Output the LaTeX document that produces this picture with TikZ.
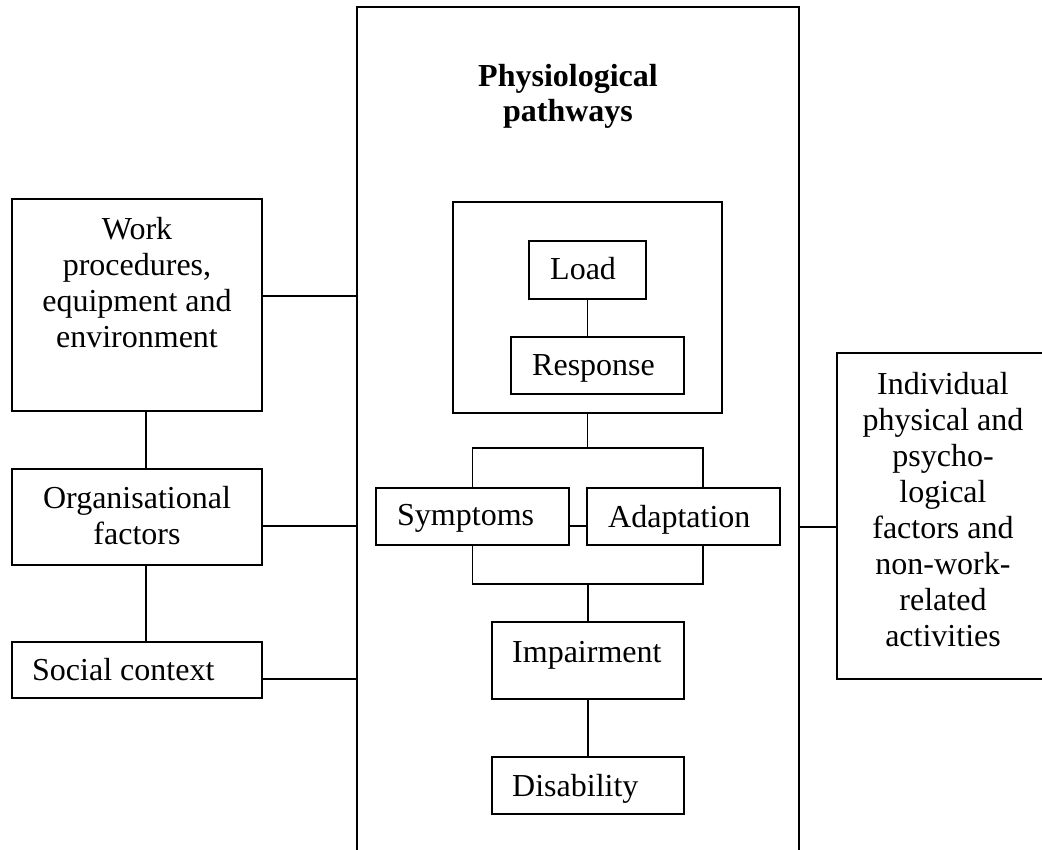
\documentclass[tikz,border=0pt]{standalone}
\usepackage{fontspec}
\setmainfont{Liberation Serif}
\begin{document}
\begin{tikzpicture}[x=1pt,y=-1pt,
  box/.style={draw, line width=1.8pt, inner sep=0pt, rectangle},
  conn/.style={line width=1.8pt},
  txt/.style={inner sep=0pt, align=center, font=\fontsize{32}{36}\selectfont},
  ttl/.style={inner sep=0pt, align=center, font=\fontsize{32}{35}\selectfont\bfseries}]
\useasboundingbox (0,0) rectangle (1042,850);
% boxes
\node[box, minimum width=442pt, minimum height=893pt] (main) at (578,453.5) {};
\node[box, minimum width=250pt, minimum height=212pt] (work) at (137,305) {};
\node[box, minimum width=250pt, minimum height=96pt] (org) at (137,517) {};
\node[box, minimum width=250pt, minimum height=56pt] (social) at (137,670) {};
\node[box, minimum width=211pt, minimum height=326pt] (indiv) at (942.5,516) {};
\node[box, minimum width=269pt, minimum height=211pt] (inner) at (587.5,307.5) {};
\node[box, minimum width=117pt, minimum height=58pt] (load) at (587.5,270) {};
\node[box, minimum width=173pt, minimum height=57pt] (resp) at (597.5,365.5) {};
\node[box, minimum width=193pt, minimum height=57pt] (sympt) at (472.5,516.5) {};
\node[box, minimum width=193pt, minimum height=57pt] (adapt) at (683.5,516.5) {};
\node[box, minimum width=192pt, minimum height=77pt] (impair) at (588,660.5) {};
\node[box, minimum width=192pt, minimum height=57pt] (disab) at (588,785.5) {};
% texts (anchor=base is the baseline of the last line)
\node[ttl, anchor=base] (tTitle) at (568,122) {Physiological\\pathways};
\node[txt, anchor=base] (tWork) at (137,348) {Work\\procedures,\\equipment and\\environment};
\node[txt, anchor=base] (tOrg) at (137,544) {Organisational\\factors};
\node[txt, anchor=base west] (tSocial) at (32,680) {Social context};
\node[txt, anchor=base west] (tLoad) at (550,280) {Load};
\node[txt, anchor=base west] (tResp) at (532,376) {Response};
\node[txt, anchor=base west] (tSympt) at (397,525) {Symptoms};
\node[txt, anchor=base west] (tAdapt) at (608,527) {Adaptation};
\node[txt, anchor=base west] (tImpair) at (512,662) {Impairment};
\node[txt, anchor=base west] (tDisab) at (512,796) {Disability};
\node[txt, anchor=base] (tIndiv) at (943,646) {Individual\\physical and\\psycho-\\logical\\factors and\\non-work-\\related\\activities};
% connectors to main box
\coordinate (w1) at ([yshift=9pt]work.east);
\draw[conn] (w1) -- (w1 -| main.west);
\coordinate (o1) at ([yshift=-9pt]org.east);
\draw[conn] (o1) -- (o1 -| main.west);
\coordinate (s1) at ([yshift=-9pt]social.east);
\draw[conn] (s1) -- (s1 -| main.west);
\coordinate (i1) at ([yshift=-11pt]indiv.west);
\draw[conn] (i1) -- (i1 -| main.east);
% left chain
\draw[conn] ([xshift=9pt]work.south) -- ([xshift=9pt]org.north);
\draw[conn] ([xshift=9pt]org.south) -- ([xshift=9pt]social.north);
% central chain
\draw[conn] (load.south) -- (load.south |- resp.north);
\coordinate (tb) at ([yshift=39pt]sympt.north);
\coordinate (adN) at ([xshift=19.5pt]adapt.north);
\draw[conn] (sympt.north) -- (tb) -- (tb -| adN) -- (adN);
\draw[conn] (inner.south) -- (inner.south |- tb);
\coordinate (bb) at ([yshift=-38pt]sympt.south);
\coordinate (adS) at ([xshift=19.5pt]adapt.south);
\draw[conn] (sympt.south) -- (bb) -- (bb -| adS) -- (adS);
\draw[conn] (impair.north) -- (impair.north |- bb);
\draw[conn] ([yshift=-9.5pt]sympt.east) -- ([yshift=-9.5pt]adapt.west);
\draw[conn] (impair.south) -- (disab.north);
\end{tikzpicture}
\end{document}
